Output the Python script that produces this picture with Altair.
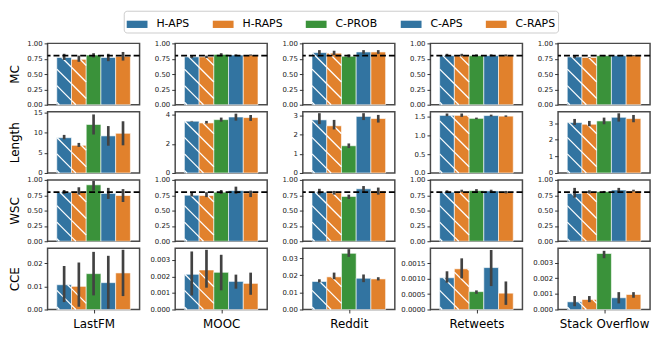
import math
import altair as alt
import pandas as pd

# ---------------- data ----------------
methods = ["H-APS", "H-RAPS", "C-PROB", "C-APS", "C-RAPS"]
colors = ["#3274a1", "#e1812c", "#3a923a", "#3274a1", "#e1812c"]
hatched = [True, True, False, False, False]
datasets = ["LastFM", "MOOC", "Reddit", "Retweets", "Stack Overflow"]
metrics = ["MC", "Length", "WSC", "CCE"]
ref_line = 0.8

# means / lower / upper, one list per dataset (order of `datasets`), values per method
mc_mean = [[0.77, 0.74, 0.81, 0.77, 0.79], [0.78, 0.78, 0.82, 0.81, 0.81], [0.85, 0.84, 0.79, 0.86, 0.86],
           [0.80, 0.80, 0.80, 0.80, 0.80], [0.78, 0.77, 0.80, 0.80, 0.80]]
mc_lo = [[0.73, 0.70, 0.77, 0.71, 0.72], [0.76, 0.76, 0.81, 0.80, 0.80], [0.82, 0.81, 0.77, 0.83, 0.83],
         [0.79, 0.79, 0.79, 0.79, 0.79], [0.76, 0.765, 0.79, 0.79, 0.79]]
mc_hi = [[0.83, 0.80, 0.84, 0.83, 0.86], [0.81, 0.80, 0.84, 0.82, 0.82], [0.89, 0.88, 0.82, 0.89, 0.89],
         [0.83, 0.83, 0.82, 0.82, 0.82], [0.80, 0.775, 0.81, 0.81, 0.81]]

len_mean = [[8.8, 6.9, 12.1, 9.25, 9.9], [3.57, 3.45, 3.68, 3.86, 3.82], [2.77, 2.46, 1.42, 2.95, 2.84],
            [1.54, 1.54, 1.46, 1.535, 1.52], [3.04, 2.94, 3.14, 3.36, 3.28]]
len_lo = [[8.4, 6.5, 9.6, 6.8, 6.9], [3.55, 3.41, 3.54, 3.61, 3.59], [2.55, 2.27, 1.30, 2.76, 2.63],
          [1.52, 1.50, 1.44, 1.51, 1.50], [2.90, 2.82, 2.94, 3.10, 3.06]]
len_hi = [[9.5, 7.5, 14.6, 11.7, 12.9], [3.59, 3.59, 3.82, 4.09, 4.00], [3.12, 2.77, 1.54, 3.12, 3.03],
          [1.59, 1.59, 1.48, 1.56, 1.54], [3.26, 3.14, 3.34, 3.60, 3.50]]

wsc_mean = [[0.80, 0.81, 0.92, 0.78, 0.745], [0.75, 0.745, 0.80, 0.825, 0.79], [0.80, 0.79, 0.73, 0.855, 0.82],
            [0.80, 0.81, 0.825, 0.82, 0.80], [0.78, 0.80, 0.81, 0.835, 0.82]]
wsc_lo = [[0.77, 0.76, 0.825, 0.69, 0.64], [0.73, 0.72, 0.77, 0.77, 0.72], [0.76, 0.76, 0.69, 0.79, 0.76],
          [0.79, 0.80, 0.80, 0.80, 0.78], [0.71, 0.78, 0.80, 0.80, 0.81]]
wsc_hi = [[0.835, 0.88, 0.985, 0.87, 0.85], [0.79, 0.80, 0.835, 0.89, 0.825], [0.855, 0.82, 0.76, 0.90, 0.875],
          [0.83, 0.84, 0.85, 0.84, 0.82], [0.87, 0.83, 0.82, 0.87, 0.84]]

cce_mean = [[0.0107, 0.0100, 0.0155, 0.0116, 0.0158], [0.00213, 0.00239, 0.00225, 0.00170, 0.00158],
            [0.0164, 0.0191, 0.0329, 0.0183, 0.0179], [0.00103, 0.00132, 0.00058, 0.00136, 0.00053],
            [0.00049, 0.00064, 0.00358, 0.00075, 0.00096]]
cce_lo = [[0.0032, 0.0012, 0.0061, 0.0003, 0.0058], [0.00085, 0.00132, 0.00116, 0.00126, 0.00089],
          [0.0158, 0.0177, 0.0308, 0.0160, 0.0170], [0.00087, 0.00101, 0.00051, 0.00076, 0.00015],
          [0.00021, 0.00047, 0.00328, 0.00039, 0.00075]]
cce_hi = [[0.0188, 0.0203, 0.0249, 0.0232, 0.0258], [0.00351, 0.00361, 0.00331, 0.00211, 0.00223],
          [0.0177, 0.0216, 0.0353, 0.0205, 0.0189], [0.00124, 0.00166, 0.00062, 0.00193, 0.00091],
          [0.00086, 0.00086, 0.00375, 0.00111, 0.00111]]

# axis limits and tick labels per panel
mc_ymax = [1.0, 1.0, 1.0, 1.0, 1.0]
len_ymax = [15.3, 4.23, 3.2, 1.64, 3.7]
wsc_ymax = [1.0, 1.0, 1.0, 1.0, 1.0]
cce_ymax = [0.0265, 0.00371, 0.0359, 0.00199, 0.00392]

unit_ticks = [0, 0.25, 0.5, 0.75, 1.0]
len_ticks = [[0, 5, 10, 15], [0, 2, 4], [0, 1, 2, 3], [0, 0.5, 1.0, 1.5], [0, 1, 2, 3]]
cce_ticks = [[0, 0.01, 0.02], [0, 0.001, 0.002, 0.003], [0, 0.01, 0.02, 0.03],
             [0, 0.0005, 0.001, 0.0015], [0, 0.001, 0.002, 0.003]]
len_fmt = ["d", "d", "d", ".1f", "d"]
cce_fmt = [".2f", ".3f", ".2f", ".4f", ".3f"]

rows_def = {
    "MC": (mc_mean, mc_lo, mc_hi, mc_ymax, [unit_ticks] * 5, [".2f"] * 5, True),
    "Length": (len_mean, len_lo, len_hi, len_ymax, len_ticks, len_fmt, False),
    "WSC": (wsc_mean, wsc_lo, wsc_hi, wsc_ymax, [unit_ticks] * 5, [".2f"] * 5, True),
    "CCE": (cce_mean, cce_lo, cce_hi, cce_ymax, cce_ticks, cce_fmt, False),
}

# ---------------- layout / style ----------------
W, H = 93, 62
HATCH_STEP = 16.7
GROUP = 0.8
BW = GROUP / len(methods)
FONT = "DejaVu Sans"


def hatch_segments(means, ymax):
    segs = []
    for i, (m, h) in enumerate(zip(means, hatched)):
        if not h:
            continue
        xa = (0.5 - GROUP / 2 + BW * i) * W
        xb = (0.5 - GROUP / 2 + BW * (i + 1)) * W
        yt = H * (1 - m / ymax)
        cmin, cmax = yt - xb, H - xa
        k = math.floor(cmin / HATCH_STEP)
        while k * HATCH_STEP <= cmax:
            c = k * HATCH_STEP
            x1 = max(xa, yt - c)
            x2 = min(xb, H - c)
            if x2 - x1 > 0.6:
                segs.append(dict(hx=x1 / W - 0.5, hx2=x2 / W - 0.5,
                                 hy=ymax * (H - (x1 + c)) / H, hy2=ymax * (H - (x2 + c)) / H))
            k += 1
    return pd.DataFrame(segs)


panels = []
for r, metric in enumerate(metrics):
    mean, lo, hi, ymaxs, ticks, fmts, dashed = rows_def[metric]
    for c, ds in enumerate(datasets):
        ymax = ymaxs[c]
        df = pd.DataFrame({
            "method": methods,
            "x0": [-GROUP / 2 + BW * i for i in range(len(methods))],
            "x1": [-GROUP / 2 + BW * (i + 1) for i in range(len(methods))],
            "xc": [-GROUP / 2 + BW * (i + 0.5) for i in range(len(methods))],
            "mean": mean[c], "lo": lo[c], "hi": hi[c], "zero": [0.0] * len(methods),
        })
        xs = alt.Scale(domain=[-0.5, 0.5], nice=False, zero=False)
        ys = alt.Scale(domain=[0, ymax], nice=False, zero=False)

        if r == len(metrics) - 1:
            xaxis = alt.Axis(values=[0], labels=False, tickSize=3.5, title=ds, titlePadding=5)
        else:
            xaxis = None
        ykw = dict(values=ticks[c], format=fmts[c], tickSize=3.5)
        if c == 0:
            ykw.update(title=metric, titleX=-33, titleBaseline="middle")
        else:
            ykw.update(title=None)
        yaxis = alt.Axis(**ykw)

        bars = alt.Chart(df).mark_rect(stroke="white", strokeWidth=1, strokeOpacity=0.6).encode(
            x=alt.X("x0:Q", scale=xs, axis=xaxis),
            x2="x1",
            y=alt.Y("mean:Q", scale=ys, axis=yaxis),
            y2="zero",
            color=alt.Color("method:N", scale=alt.Scale(domain=methods, range=colors),
                            legend=alt.Legend(title=None)),
        )
        hdf = hatch_segments(mean[c], ymax)
        hatch = alt.Chart(hdf).mark_rule(color="white", strokeWidth=1.3).encode(
            x=alt.X("hx:Q", scale=xs, axis=xaxis), x2="hx2",
            y=alt.Y("hy:Q", scale=ys, axis=yaxis), y2="hy2",
        )
        err = alt.Chart(df).mark_rule(color="#424242", strokeWidth=2.7).encode(
            x=alt.X("xc:Q", scale=xs, axis=xaxis),
            y=alt.Y("lo:Q", scale=ys, axis=yaxis), y2="hi",
        )
        layers = [bars, hatch, err]
        if dashed:
            line = alt.Chart(pd.DataFrame({"ref": [ref_line]})).mark_rule(
                color="black", strokeDash=[6, 3], strokeWidth=1.9).encode(
                y=alt.Y("ref:Q", scale=ys, axis=yaxis))
            layers.append(line)
        panels.append(alt.layer(*layers).properties(width=W, height=H))

chart = alt.concat(*panels, columns=5, spacing={"row": 7, "column": 36}, bounds="flush").properties(
    padding={"left": 0, "top": 0, "right": 4, "bottom": 2},
    background="white",
).configure_view(
    stroke="#4a4a4a", strokeWidth=1.5,
).configure_axis(
    labelFont=FONT, labelFontSize=7, labelColor="#222222", labelPadding=2,
    tickColor="#333333", tickWidth=1, domain=False, grid=False,
    titleFont=FONT, titleFontSize=12, titleFontWeight="normal", titleColor="black",
).configure_legend(
    orient="none", legendX=77, legendY=-33, direction="horizontal",
    symbolType="M-1,-0.35L1,-0.35L1,0.35L-1,0.35Z", symbolSize=441, symbolStrokeWidth=0,
    symbolOpacity=1, labelFont=FONT, labelFontSize=11, labelColor="black", labelOffset=9,
    columnPadding=23, padding=3, strokeColor="#cccccc", cornerRadius=3, fillColor="white",
)

chart.save("out.html", embed_options={"renderer": "svg", "actions": False})
